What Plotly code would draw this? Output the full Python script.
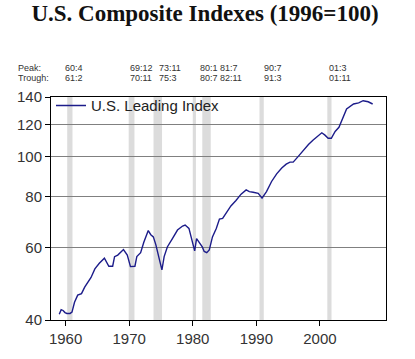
import math
import plotly.graph_objects as go

years = [1959.0, 1959.3, 1959.6, 1959.9, 1960.2, 1960.7, 1961.0, 1961.4, 1961.9, 1962.5,
         1963.0, 1963.5, 1964.0, 1964.6, 1965.3, 1966.1, 1966.4, 1966.8, 1967.4, 1967.7,
         1968.2, 1968.8, 1969.1, 1969.7, 1970.1, 1970.2, 1970.9, 1971.2, 1971.8, 1972.3,
         1973.0, 1973.4, 1973.8, 1974.2, 1974.7, 1975.15, 1975.5, 1976.0, 1976.8, 1977.6,
         1978.4, 1978.8, 1979.4, 1979.7, 1980.1, 1980.3, 1980.6, 1981.0, 1981.5, 1981.8,
         1982.2, 1982.6, 1983.1, 1983.7, 1984.2, 1984.7, 1985.3, 1986.0, 1986.8, 1987.6,
         1988.4, 1988.9, 1989.5, 1990.3, 1990.9, 1991.6, 1992.4, 1993.2, 1994.0, 1994.7,
         1995.3, 1995.8, 1996.6, 1997.4, 1998.2, 1998.9, 1999.7, 2000.3, 2000.8, 2001.3,
         2001.8, 2002.4, 2003.0, 2003.7, 2004.2, 2005.3, 2006.1, 2006.8, 2007.6, 2008.3]
leading = [41.3, 42.4, 42.2, 41.7, 41.5, 41.5, 41.8, 44.2, 46.0, 46.4,
           48.1, 49.4, 50.8, 53.3, 55.0, 56.6, 55.6, 54.1, 54.1, 57.1,
           57.6, 58.6, 59.4, 57.6, 54.7, 54.0, 54.1, 57.1, 58.4, 61.9,
           66.1, 64.6, 63.8, 61.0, 56.6, 53.0, 57.1, 60.3, 63.2, 66.3,
           67.8, 68.2, 66.9, 64.1, 60.3, 59.0, 63.2, 61.9, 60.3, 58.8,
           58.4, 59.3, 63.8, 66.9, 70.5, 70.8, 73.2, 75.9, 78.3, 81.1,
           83.1, 82.3, 82.0, 81.5, 79.3, 82.3, 87.1, 90.9, 93.9, 96.0,
           97.1, 97.1, 100.3, 104.0, 107.2, 109.8, 112.6, 114.5, 113.0, 111.0,
           111.0, 115.4, 118.1, 125.1, 130.9, 134.6, 135.5, 137.1, 136.3, 134.6]

rec_start = [1960.25, 1969.92, 1973.83, 1980.0, 1981.5, 1990.5, 2001.17]
rec_end = [1961.08, 1970.83, 1975.17, 1980.5, 1982.83, 1991.17, 2001.83]

peak_labels = ["60:4", "69:12", "73:11", "80:1 81:7", "90:7", "01:3"]
trough_labels = ["61:2", "70:11", "75:3", "80:7 82:11", "91:3", "01:11"]
label_px = [63, 128, 157, 198, 262, 327]

y_ticks = [40, 60, 80, 100, 120, 140]
x_ticks = [1960, 1970, 1980, 1990, 2000]

W, H = 415, 359
L, R, T, B = 51, 29, 97, 34

fig = go.Figure()
fig.add_trace(go.Scatter(x=years, y=leading, mode="lines", name="U.S. Leading Index",
                         line=dict(color="#1c1c8a", width=1.4)))

for s, e in zip(rec_start, rec_end):
    fig.add_shape(type="rect", xref="x", yref="paper", x0=s, x1=e, y0=0, y1=1,
                  fillcolor="#dcdcdc", line=dict(width=0), layer="below")

plot_w = W - L - R
plot_h = H - T - B
def px_to_paper_x(px):
    return (px - L) / plot_w
def py_to_paper_y(py):
    return (H - B - py) / plot_h

ann_font = dict(family="Arial", size=9, color="#333")
fig.add_annotation(text="Peak:", xref="paper", yref="paper", x=px_to_paper_x(16), y=py_to_paper_y(67),
                   xanchor="left", yanchor="middle", showarrow=False, font=ann_font)
fig.add_annotation(text="Trough:", xref="paper", yref="paper", x=px_to_paper_x(16), y=py_to_paper_y(78),
                   xanchor="left", yanchor="middle", showarrow=False, font=ann_font)
for p, t, px in zip(peak_labels, trough_labels, label_px):
    fig.add_annotation(text=p, xref="paper", yref="paper", x=px_to_paper_x(px), y=py_to_paper_y(67),
                       xanchor="left", yanchor="middle", showarrow=False, font=ann_font)
    fig.add_annotation(text=t, xref="paper", yref="paper", x=px_to_paper_x(px), y=py_to_paper_y(78),
                       xanchor="left", yanchor="middle", showarrow=False, font=ann_font)

fig.update_layout(
    width=W, height=H,
    margin=dict(l=L, r=R, t=T, b=B),
    paper_bgcolor="white", plot_bgcolor="white",
    title=dict(text="<b>U.S. Composite Indexes (1996=100)</b>",
               x=205 / W, xanchor="center",
               y=1 - 13 / H, yanchor="middle",
               font=dict(family="Liberation Serif", size=23, color="#111")),
    showlegend=True,
    legend=dict(x=0.0, y=1.035, xanchor="left", yanchor="top", bgcolor="rgba(0,0,0,0)",
                font=dict(family="Arial", size=15, color="#222"), itemwidth=30,
                tracegroupgap=0),
    xaxis=dict(range=[1957.7, 2010.4], tickvals=x_ticks, showgrid=False, zeroline=False,
               showline=True, linecolor="black", linewidth=1, mirror=True,
               ticks="outside", ticklen=5, tickcolor="black",
               tickfont=dict(family="Arial", size=15, color="#333")),
    yaxis=dict(type="log", range=[math.log10(40), math.log10(140)], tickvals=y_ticks, showgrid=True,
               gridcolor="#808080", gridwidth=1, zeroline=False,
               showline=True, linecolor="black", linewidth=1, mirror=True,
               ticks="outside", ticklen=5, tickcolor="black",
               tickfont=dict(family="Arial", size=15, color="#333")),
)

fig.write_html("out.html", config={"displayModeBar": False},
               post_script="document.body.style.margin='0';document.documentElement.style.margin='0';")
